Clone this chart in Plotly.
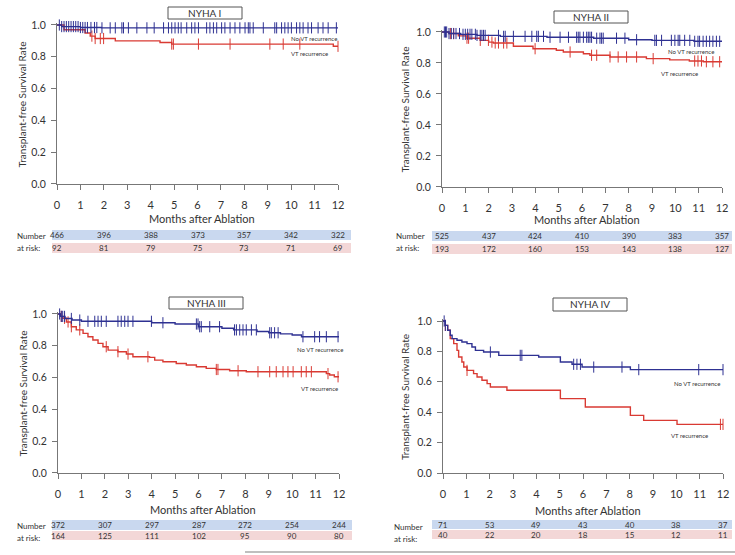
import plotly.graph_objects as go

W, H = 735, 555

# ---- data ----
x_ticks = list(range(13))
y_ticks = [0.0, 0.2, 0.4, 0.6, 0.8, 1.0]
y_ticktext = ["0.0", "0.2", "0.4", "0.6", "0.8", "1.0"]
risk_months = [0, 2, 4, 6, 8, 10, 12]

titles = ["NYHA I", "NYHA II", "NYHA III", "NYHA IV"]

# NYHA I
n1_novt_t = [0, 0.2, 1.0, 1.9, 12]
n1_novt_s = [1.0, 0.99, 0.984, 0.982, 0.982]
n1_vt_t = [0, 0.3, 1.2, 1.42, 1.63, 2.49, 4.4, 4.9, 11.8, 12]
n1_vt_s = [1.0, 0.97, 0.95, 0.93, 0.915, 0.90, 0.89, 0.88, 0.866, 0.866]
n1_novt_cens = [0.1, 0.2, 0.3, 0.4, 0.5, 0.6, 0.7, 0.8, 0.9, 1.0, 1.1, 1.2, 1.3, 1.45, 1.6, 1.7,
                1.92, 2.27, 2.49, 2.77, 2.84, 3.05, 3.41, 3.84, 4.15, 4.55, 4.76, 4.9, 5.04, 5.18,
                5.3, 5.54, 5.75, 5.89, 6.04, 6.39, 6.53, 6.68, 6.82, 7.03, 7.17, 7.39, 7.6, 7.81,
                8.03, 8.17, 8.24, 8.38, 8.81, 9.3, 9.38, 9.59, 9.73, 9.87, 10.01, 10.23, 10.37,
                10.51, 10.72, 10.87, 11.15, 11.36, 11.58, 11.93]
n1_vt_cens = [1.49, 1.63, 1.85, 1.99, 4.9, 4.97, 6.04, 7.39, 9.09, 9.66, 10.37, 12.0]
n1_risk_novt = [466, 396, 388, 373, 357, 342, 322]
n1_risk_vt = [92, 81, 79, 75, 73, 71, 69]

# NYHA II
n2_novt_t = [0, 0.3, 0.8, 1.5, 2.5, 4.5, 6.5, 8.0, 9.0, 10.8, 12]
n2_novt_s = [1.0, 0.99, 0.985, 0.978, 0.972, 0.966, 0.96, 0.95, 0.946, 0.94, 0.94]
n2_vt_t = [0, 0.3, 0.7, 1.07, 1.64, 2.0, 2.2, 3.06, 3.9, 4.9, 5.2, 6.06, 6.34, 7.2, 8.76,
           9.76, 10.6, 11.2, 12]
n2_vt_s = [1.0, 0.99, 0.975, 0.96, 0.946, 0.935, 0.929, 0.908, 0.892, 0.882, 0.871, 0.86,
           0.85, 0.839, 0.828, 0.82, 0.813, 0.808, 0.808]
n2_novt_cens = [0.1, 0.15, 0.2, 0.3, 0.4, 0.5, 0.6, 0.75, 0.9, 1.0, 1.1, 1.2, 1.28, 1.43, 1.5,
                1.64, 1.71, 1.78, 1.85, 2.42, 2.64, 2.71, 3.06, 3.56, 3.85, 4.06, 4.13, 4.35,
                4.63, 5.06, 5.42, 5.77, 5.84, 5.91, 6.06, 6.2, 6.27, 6.34, 6.41, 6.63, 6.77,
                6.84, 6.91, 7.48, 7.84, 8.34, 9.12, 9.19, 9.41, 9.83, 9.98, 10.12, 10.19, 10.4,
                10.62, 10.83, 10.97, 11.04, 11.19, 11.33, 11.47, 11.61, 11.76, 11.9]
n2_vt_cens = [0.36, 0.5, 1.07, 1.14, 1.64, 1.99, 2.14, 2.28, 2.42, 2.64, 2.78, 3.99, 5.49,
              6.41, 6.63, 7.2, 7.55, 7.91, 8.34, 9.05, 10.83, 10.97, 11.12, 11.33, 11.61, 11.9]
n2_risk_novt = [525, 437, 424, 410, 390, 383, 357]
n2_risk_vt = [193, 172, 160, 153, 143, 138, 127]

# NYHA III
n3_novt_t = [0, 0.1, 0.3, 0.6, 1.0, 4.0, 5.0, 6.0, 7.0, 7.5, 8.5, 9.0, 9.5, 10.0, 10.4, 12]
n3_novt_s = [1.0, 0.985, 0.972, 0.962, 0.954, 0.945, 0.937, 0.92, 0.91, 0.9, 0.89, 0.882,
             0.875, 0.868, 0.857, 0.857]
n3_vt_t = [0, 0.1, 0.21, 0.36, 0.57, 0.78, 1.07, 1.28, 1.49, 1.71, 1.92, 2.14, 2.56, 2.92,
           3.2, 3.91, 4.13, 4.48, 5.05, 5.48, 5.91, 6.33, 6.76, 7.33, 8.04, 11.46, 11.6, 11.8, 12]
n3_vt_s = [1.0, 0.985, 0.973, 0.95, 0.92, 0.9, 0.878, 0.857, 0.836, 0.815, 0.794, 0.773,
           0.763, 0.748, 0.731, 0.727, 0.71, 0.7, 0.689, 0.679, 0.668, 0.658, 0.651, 0.643,
           0.637, 0.625, 0.616, 0.605, 0.605]
n3_novt_cens = [0.07, 0.14, 0.2, 0.28, 0.57, 0.93, 1.28, 1.57, 1.71, 1.85, 2.06, 2.56, 2.7,
                2.85, 2.99, 3.2, 3.99, 4.48, 5.91, 5.98, 6.05, 6.12, 6.48, 6.9, 7.54, 7.62,
                7.76, 7.9, 8.04, 8.26, 8.47, 9.04, 9.11, 9.25, 9.4, 10.46, 10.96, 11.17,
                11.46, 11.96]
n3_vt_cens = [0.14, 0.28, 0.43, 0.57, 0.93, 2.06, 2.56, 2.99, 3.84, 6.76, 6.83, 7.69, 8.54,
              9.04, 9.32, 9.61, 9.82, 10.04, 10.39, 10.6, 10.82, 11.53, 11.96]
n3_risk_novt = [372, 307, 297, 287, 272, 254, 244]
n3_risk_vt = [164, 125, 111, 102, 95, 90, 80]

# NYHA IV
n4_novt_t = [0, 0.1, 0.2, 0.31, 0.39, 0.6, 0.81, 1.03, 1.24, 1.39, 1.74, 2.39, 4.1, 5.03,
             5.53, 5.96, 8.03, 12]
n4_novt_s = [1.0, 0.971, 0.939, 0.906, 0.884, 0.873, 0.862, 0.851, 0.829, 0.807, 0.796,
             0.774, 0.763, 0.73, 0.715, 0.697, 0.68, 0.68]
n4_vt_t = [0, 0.1, 0.2, 0.31, 0.46, 0.6, 0.67, 0.81, 0.89, 1.03, 1.31, 1.46, 1.67, 1.89,
           2.03, 2.74, 5.03, 6.1, 8.03, 8.6, 10.03, 12]
n4_vt_s = [1.0, 0.971, 0.939, 0.884, 0.851, 0.807, 0.763, 0.73, 0.697, 0.675, 0.654, 0.632,
           0.61, 0.588, 0.566, 0.544, 0.489, 0.434, 0.379, 0.346, 0.32, 0.32]
n4_novt_cens = [0.05, 0.1, 2.03, 3.31, 3.38, 5.6, 5.74, 5.89, 6.46, 7.67, 8.39, 10.96, 12.0]
n4_vt_cens = [0.1, 1.03, 11.89, 12.0]
n4_risk_novt = [71, 53, 49, 43, 40, 38, 37]
n4_risk_vt = [40, 22, 20, 18, 15, 12, 11]

# label anchor points (month, survival)
label_novt = [(9.9, 0.915), (9.6, 0.872), (10.1, 0.775), (9.8, 0.588)]
label_vt = [(9.9, 0.82), (9.3, 0.73), (10.3, 0.53), (9.7, 0.248)]

# ---- geometry (pixels) ----
geo = [
    dict(x0=57, x1=338, yb=184, yt=25, box=(168, 242, 7, 19), ylab=22,
         mon_y=219, tab=(52, 351), blue=(230, 240), red=(243, 253), lab_x=15,
         num_y=(236, 248)),
    dict(x0=442, x1=722, yb=187, yt=32, box=(554, 628, 11, 23), ylab=405,
         mon_y=220, tab=(432, 732), blue=(231, 241), red=(244, 254), lab_x=394,
         num_y=(236, 248)),
    dict(x0=58, x1=339, yb=473, yt=314, box=(169, 243, 297, 309), ylab=22,
         mon_y=509, tab=(52, 352), blue=(520, 530), red=(531, 540), lab_x=15,
         num_y=(526, 538)),
    dict(x0=443, x1=723, yb=473, yt=321, box=(553, 627, 298, 311), ylab=405,
         mon_y=510, tab=(432, 732), blue=(520, 529), red=(530, 539), lab_x=392,
         num_y=(527, 539)),
]

curves = [
    (n1_novt_t, n1_novt_s, n1_vt_t, n1_vt_s, n1_novt_cens, n1_vt_cens, n1_risk_novt, n1_risk_vt),
    (n2_novt_t, n2_novt_s, n2_vt_t, n2_vt_s, n2_novt_cens, n2_vt_cens, n2_risk_novt, n2_risk_vt),
    (n3_novt_t, n3_novt_s, n3_vt_t, n3_vt_s, n3_novt_cens, n3_vt_cens, n3_risk_novt, n3_risk_vt),
    (n4_novt_t, n4_novt_s, n4_vt_t, n4_vt_s, n4_novt_cens, n4_vt_cens, n4_risk_novt, n4_risk_vt),
]

BLUE = "#2e3192"
RED = "#d93a33"
FONT = "Lato"
TXT = "#333333"


def px(x):
    return x / W


def py(y):
    return 1 - y / H


def surv_at(ts, ss, t):
    val = ss[0]
    for ti, si in zip(ts, ss):
        if ti <= t:
            val = si
    return val


def note(x, y, text, size, xref="paper", yref="paper", xanchor="center", **kw):
    return dict(x=x, y=y, xref=xref, yref=yref, text=text, showarrow=False,
                xanchor=xanchor, yanchor="middle",
                font=dict(family=FONT, size=size, color=TXT), **kw)


fig = go.Figure()
shapes = []
annotations = []
layout = {}
YTOP = 1.015

for i, (g, c) in enumerate(zip(geo, curves)):
    n = "" if i == 0 else str(i + 1)
    xa, ya = "x" + n, "y" + n
    nt, ns, vt, vs, ncens, vcens, rn, rv = c

    for ts, ss, cens, col in [(vt, vs, vcens, RED), (nt, ns, ncens, BLUE)]:
        fig.add_trace(go.Scatter(x=ts, y=ss, mode="lines", xaxis=xa, yaxis=ya,
                                 line=dict(shape="hv", color=col, width=1.4),
                                 showlegend=False, hoverinfo="skip"))
        fig.add_trace(go.Scatter(x=cens, y=[surv_at(ts, ss, t) for t in cens],
                                 mode="markers", xaxis=xa, yaxis=ya, cliponaxis=False,
                                 marker=dict(symbol="line-ns", size=8,
                                             line=dict(width=1, color=col)),
                                 showlegend=False, hoverinfo="skip"))

    h1 = (g["yb"] - g["yt"]) * YTOP
    layout["xaxis" + n] = dict(
        domain=[px(g["x0"]), px(g["x1"])], range=[0, 12], anchor=ya, automargin=False,
        tickvals=x_ticks, ticks="outside", ticklen=5, tickcolor="#777",
        showline=True, linecolor="#777", linewidth=1, showgrid=False, zeroline=False,
        tickfont=dict(family=FONT, size=11, color=TXT), ticklabelstandoff=6)
    layout["yaxis" + n] = dict(
        domain=[py(g["yb"]), py(g["yb"] - h1)], range=[0, YTOP], anchor=xa, automargin=False,
        tickvals=y_ticks, ticktext=y_ticktext, ticks="outside", ticklen=5,
        tickcolor="#777", showline=True, linecolor="#777", linewidth=1,
        showgrid=False, zeroline=False,
        tickfont=dict(family=FONT, size=10.5, color=TXT), ticklabelstandoff=3)

    # title box
    bx0, bx1, by0, by1 = g["box"]
    shapes.append(dict(type="rect", xref="paper", yref="paper", x0=px(bx0), x1=px(bx1),
                       y0=py(by1), y1=py(by0), line=dict(color="#555", width=1)))
    annotations.append(note(px((bx0 + bx1) / 2), py((by0 + by1) / 2), titles[i], 10))

    # axis titles
    annotations.append(note(px(g["ylab"]), py((g["yb"] + g["yt"]) / 2),
                            "Transplant-free Survival Rate", 10, textangle=-90))
    annotations.append(note(6.2, py(g["mon_y"]), "Months after Ablation", 11, xref=xa))

    # curve labels
    for (lx, ly), txt in [(label_novt[i], "No VT recurrence"), (label_vt[i], "VT recurrence")]:
        annotations.append(note(lx, ly, txt, 6, xref=xa, yref=ya, xanchor="left"))

    # number at risk table
    tx0, tx1 = g["tab"]
    for (ry0, ry1), fill in [(g["blue"], "#c9d8ef"), (g["red"], "#f3d7d7")]:
        shapes.append(dict(type="rect", xref="paper", yref="paper", x0=px(tx0), x1=px(tx1),
                           y0=py(ry1), y1=py(ry0), line=dict(width=0), fillcolor=fill,
                           layer="below"))
    for vals, (ry0, ry1) in [(rn, g["blue"]), (rv, g["red"])]:
        for m, v in zip(risk_months, vals):
            annotations.append(note(m, py((ry0 + ry1) / 2), str(v), 8, xref=xa))
    annotations.append(note(px(g["lab_x"]), py(g["num_y"][0]), "Number", 8, xanchor="left"))
    annotations.append(note(px(g["lab_x"]), py(g["num_y"][1]), "at risk:", 8, xanchor="left"))

# thin rule at the bottom
shapes.append(dict(type="line", xref="paper", yref="paper", x0=px(245), x1=1,
                   y0=py(552), y1=py(552), line=dict(color="#aaa", width=1.5)))

fig.update_layout(
    width=W, height=H, margin=dict(l=0, r=0, t=0, b=0),
    paper_bgcolor="white", plot_bgcolor="white",
    font=dict(family=FONT, color=TXT),
    shapes=shapes, annotations=annotations, **layout)

fig.write_html("out.html", config={"displayModeBar": False},
               post_script="document.body.style.margin='0';")
